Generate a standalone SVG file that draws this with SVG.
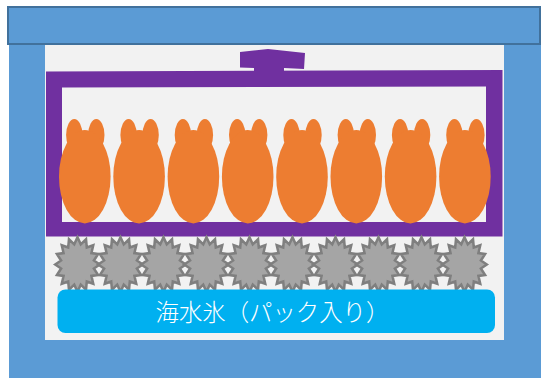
<svg xmlns="http://www.w3.org/2000/svg" xmlns:xlink="http://www.w3.org/1999/xlink" width="552" height="378" viewBox="0 0 552 378">
  <style>
    .box { fill: #5B9BD5; }
    .lid { fill: #5B9BD5; stroke: #41719C; stroke-width: 2; }
    .inside { fill: #F2F2F2; }
    .tray { fill: #7030A0; fill-rule: evenodd; }
    .fish { fill: #ED7D31; }
    .ice { fill: #A5A5A5; stroke: #7F7F7F; stroke-width: 2.5; stroke-linejoin: miter; }
    .pack { fill: #00B0F0; }
    .label { fill: #FFFFFF; font-family: "Noto Sans CJK JP", "Noto Sans", sans-serif; font-size: 23.4px; font-weight: 300; }
  </style>
  <defs>
    <!-- 16-point star, stretched vertically -->
    <path id="star16" d="M0,-27.3 L3.26,-20.11 L8.53,-25.22 L9.28,-17.05 L15.77,-19.3 L13.89,-11.39 L20.6,-10.45 L16.38,-4 L22.3,0 L16.38,4 L20.6,10.45 L13.89,11.39 L15.77,19.3 L9.28,17.05 L8.53,25.22 L3.26,20.11 L0,27.3 L-3.26,20.11 L-8.53,25.22 L-9.28,17.05 L-15.77,19.3 L-13.89,11.39 L-20.6,10.45 L-16.38,4 L-22.3,0 L-16.38,-4 L-20.6,-10.45 L-13.89,-11.39 L-15.77,-19.3 L-9.28,-17.05 L-8.53,-25.22 L-3.26,-20.11 Z"/>
    <!-- rabbit-like figure: body with two ears -->
    <g id="figure">
      <ellipse cx="-10.5" cy="135" rx="8.2" ry="16"/>
      <ellipse cx="11.5" cy="135" rx="8.2" ry="16"/>
      <ellipse cx="0" cy="176.7" rx="25.8" ry="46.7"/>
    </g>
  </defs>

  <!-- cooler box -->
  <g id="cooler">
    <rect class="box" x="9" y="44" width="532" height="334"/>
    <rect class="inside" x="45" y="44" width="459" height="296"/>
    <rect class="lid" x="8" y="7" width="532" height="37"/>
  </g>

  <!-- purple tray with handle -->
  <g id="tray">
    <path class="tray" d="M46,71.5 L502.5,70 L502.5,236.5 L46,236.5 Z M62,87.5 L62,222 L486,222 L486,86.5 Z"/>
    <path class="tray" d="M240,52 L268,49 L305,53 L304,69 L284,68 L284,80 L254,80 L254,68 L240,67.5 Z"/>
  </g>

  <!-- figures in the tray -->
  <g id="figures" class="fish">
    <use xlink:href="#figure" x="84.8"/>
    <use xlink:href="#figure" x="139.1"/>
    <use xlink:href="#figure" x="193.4"/>
    <use xlink:href="#figure" x="247.7"/>
    <use xlink:href="#figure" x="302"/>
    <use xlink:href="#figure" x="356.3"/>
    <use xlink:href="#figure" x="410.6"/>
    <use xlink:href="#figure" x="464.9"/>
  </g>

  <!-- ice row -->
  <g id="ice" class="ice">
    <use xlink:href="#star16" x="77.5" y="264.5"/>
    <use xlink:href="#star16" x="120.5" y="264.5"/>
    <use xlink:href="#star16" x="163.5" y="264.5"/>
    <use xlink:href="#star16" x="206.5" y="264.5"/>
    <use xlink:href="#star16" x="249.5" y="264.5"/>
    <use xlink:href="#star16" x="292.5" y="264.5"/>
    <use xlink:href="#star16" x="335.5" y="264.5"/>
    <use xlink:href="#star16" x="378.5" y="264.5"/>
    <use xlink:href="#star16" x="421.5" y="264.5"/>
    <use xlink:href="#star16" x="464.5" y="264.5"/>
  </g>

  <!-- ice pack -->
  <g id="icepack">
    <rect class="pack" x="57.5" y="289.5" width="437.5" height="43.5" rx="8" ry="8"/>
    <text class="label" x="155.5" y="321">海水氷（パック入り）</text>
  </g>
</svg>
